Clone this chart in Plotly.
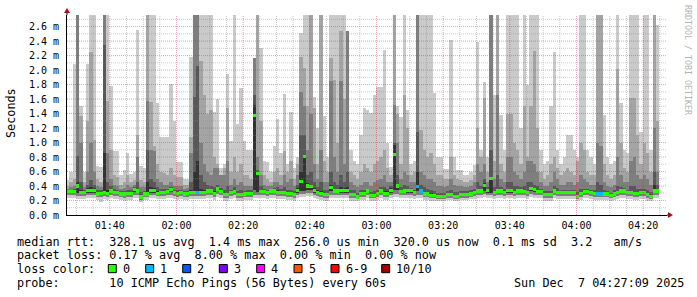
import pandas as pd
import plotly.graph_objects as go

# ---------------- data (values in 1/100 ms) ----------------
T_START = "2025-12-07 01:27:09"
T_END = "2025-12-07 04:27:09"
FIRST_BIN = "2025-12-07 01:27:21"

# smoke band tops (sorted pings: p10 highest ... p6)
top_p10 = [48,60,209,300,150,60,209,300,300,68,
           66,300,300,178,88,88,55,62,85,57,
           59,255,67,65,300,300,300,155,107,107,
           107,181,130,73,73,50,50,218,300,300,
           300,300,300,300,142,160,65,70,195,102,
           300,125,175,102,90,90,216,300,230,75,
           73,60,95,133,85,167,70,142,65,80,
           251,300,300,300,163,120,300,136,80,300,
           300,300,300,300,254,90,75,70,110,147,
           145,141,166,177,177,228,99,66,300,150,
           135,300,145,70,75,300,300,300,300,300,
           168,80,80,64,64,241,80,62,62,55,
           55,60,69,239,90,184,80,300,166,300,
           138,90,300,300,300,300,120,300,180,300,
           300,300,90,70,75,150,225,90,70,80,
           110,110,90,80,300,300,90,80,70,300,
           300,138,80,70,75,300,154,90,85,300,
           300,300,115,300,300,90,300,262]
top_p9 = [40,45,50,300,136,45,130,225,103,50,
          45,300,158,90,55,53,42,45,55,45,
          48,110,48,45,300,156,95,70,60,58,
          55,65,55,53,53,42,42,107,300,300,
          212,165,140,145,80,70,50,65,148,60,
          80,60,70,55,55,50,216,300,130,55,
          50,45,60,65,55,88,60,75,50,70,
          218,203,150,300,147,70,300,75,60,216,
          186,100,254,160,254,60,55,50,60,70,
          65,60,70,75,80,90,65,55,300,140,
          70,165,120,55,60,300,117,90,80,85,
          70,55,55,50,50,80,55,50,48,45,
          45,48,55,120,80,161,60,300,75,300,
          70,60,140,140,100,90,70,150,80,150,
          227,120,60,50,55,70,80,65,55,60,
          65,60,55,75,100,90,60,55,55,300,
          300,70,55,50,55,202,100,65,60,161,
          161,110,70,100,85,60,300,130]
top_p8 = [36,38,40,300,100,38,60,99,60,40,
          38,300,85,50,42,40,36,37,42,38,
          42,80,38,38,158,90,88,50,45,42,
          42,45,40,40,40,36,37,85,300,300,
          100,70,60,55,65,65,55,55,75,42,
          50,42,45,40,40,40,216,80,55,42,
          40,40,45,45,42,55,45,50,40,55,
          170,150,90,140,70,50,90,45,45,185,
          80,60,185,70,254,45,42,38,42,45,
          45,40,45,48,50,55,45,45,152,100,
          50,60,55,45,45,300,60,55,50,50,
          45,40,40,38,40,50,42,40,40,38,
          38,40,45,70,60,70,45,300,50,165,
          50,45,80,80,60,55,50,60,75,75,
          70,60,45,40,40,45,60,50,42,42,
          45,45,42,45,55,50,45,42,42,100,
          95,45,40,38,42,80,55,45,45,75,
          80,55,50,55,50,42,120,60]
top_p7 = [34,35,36,82,45,35,42,48,42,35,
          34,234,45,40,36,35,33,33,35,34,
          38,45,32,33,90,50,45,38,36,36,
          36,38,35,34,35,33,33,45,163,205,
          55,45,42,40,38,42,37,34,40,35,
          38,33,34,33,34,34,166,62,40,36,
          35,36,37,38,36,38,35,35,33,42,
          110,110,55,60,45,38,45,35,35,60,
          45,42,55,45,60,35,34,31,34,35,
          36,32,33,35,38,38,36,40,100,55,
          38,42,40,37,35,115,42,38,36,34,
          33,31,31,31,33,35,32,32,33,33,
          33,34,36,45,40,50,38,90,38,55,
          38,36,45,45,40,40,38,40,45,45,
          42,40,36,33,33,33,40,37,35,35,
          35,35,35,32,36,36,36,35,34,45,
          42,34,33,31,34,40,38,37,35,40,
          40,36,36,36,34,32,60,42]
top_p6 = [33,33,34,45,35,33,37,38,37,32,
          32,85,35,35,33,33,31,31,32,32,
          36,36,28,30,45,38,37,33,33,33,
          34,36,33,32,33,31,31,34,60,75,
          36,34,35,35,33,38,34,30,31,33,
          34,30,30,31,32,32,152,60,34,34,
          33,35,35,34,33,33,32,32,30,37,
          60,83,44,42,37,34,33,31,31,42,
          36,36,38,37,38,31,30,28,31,32,
          34,29,29,32,35,33,33,37,97,43,
          34,35,35,35,33,60,36,32,31,30,
          29,28,28,28,30,30,28,28,30,30,
          30,31,33,36,35,44,36,52,33,36,
          35,33,36,36,33,35,35,35,33,39,
          37,34,34,30,30,30,35,33,33,33,
          33,33,33,28,32,34,34,33,32,32,
          32,31,31,28,31,33,35,35,33,33,
          32,32,33,33,30,28,41,35]
median = [32,32,32,40,31,31,34,34,34,29,
          30,31,30,33,31,31,29,29,30,30,
          35,33,25,29,29,34,34,30,31,31,
          32,35,31,30,31,29,30,31,31,31,
          31,31,33,33,30,36,32,28,28,31,
          32,28,28,29,30,30,137,57,32,32,
          31,33,33,31,31,31,30,30,28,34,
          46,81,40,39,34,31,30,28,28,38,
          33,33,34,34,34,28,28,25,30,30,
          33,27,27,30,33,30,30,34,83,40,
          32,33,34,34,31,39,33,29,29,27,
          27,26,26,26,28,28,26,26,28,28,
          28,29,31,33,33,41,34,50,31,33,
          33,31,34,34,31,33,33,32,31,37,
          35,32,32,28,28,28,33,31,31,31,
          31,31,31,26,30,32,32,31,30,29,
          29,29,29,27,29,31,33,33,31,31,
          30,30,31,31,28,26,33,33]
# smoke band bottoms (p5, p3, p1)
bot_p5 = [30,30,30,30,29,29,31,31,31,27,
          28,29,28,30,29,29,27,27,28,28,
          32,30,23,27,27,31,31,28,29,29,
          30,32,29,28,29,27,28,29,29,29,
          29,29,30,30,28,33,30,26,26,29,
          30,26,26,27,28,28,34,32,30,30,
          29,30,30,29,29,29,28,28,26,31,
          33,33,34,35,31,29,28,26,26,33,
          30,30,31,31,31,26,26,23,28,28,
          30,25,25,28,30,28,28,31,35,34,
          30,30,31,31,29,33,30,27,27,25,
          25,24,24,24,26,26,24,24,26,26,
          26,27,29,30,30,33,31,31,29,30,
          30,29,31,31,29,30,30,30,29,33,
          32,30,30,26,26,26,30,29,29,29,
          29,29,29,24,28,30,30,29,28,27,
          27,27,27,25,27,29,30,30,29,29,
          28,28,29,29,26,24,30,30]
bot_p3 = [27,27,27,26,26,26,28,28,27,25,
          25,26,25,27,26,26,25,24,25,25,
          28,27,21,25,25,28,28,26,26,26,
          27,28,26,25,26,25,25,26,26,26,
          26,26,27,27,25,29,27,24,24,26,
          27,24,24,25,25,25,28,28,27,27,
          26,27,27,26,26,26,25,25,24,28,
          29,29,30,30,28,26,25,24,24,28,
          27,27,28,28,28,24,24,22,25,25,
          27,23,23,25,27,25,25,28,29,29,
          27,27,28,28,26,28,27,25,25,23,
          23,22,22,22,24,24,22,22,24,24,
          24,25,26,27,27,29,28,28,26,27,
          27,26,28,28,26,27,27,27,26,29,
          28,27,27,24,24,24,27,26,26,26,
          26,26,26,22,25,27,27,26,25,25,
          25,25,25,23,25,26,27,27,26,26,
          25,25,26,26,24,22,27,27]
bot_p1 = [23,23,23,22,22,22,24,24,23,21,
          18,22,21,23,22,22,21,20,21,21,
          24,23,18,21,21,24,24,22,22,22,
          23,24,22,21,22,21,21,22,22,22,
          22,22,23,23,21,25,23,20,20,22,
          23,20,20,21,21,21,24,24,23,23,
          22,23,23,22,22,22,21,21,20,24,
          25,25,26,26,24,22,21,20,20,24,
          23,23,24,24,24,20,20,19,21,21,
          23,20,20,21,23,21,21,24,25,25,
          23,23,24,24,22,24,23,21,21,20,
          20,19,19,19,21,21,19,19,21,21,
          21,22,22,23,23,25,24,24,22,23,
          23,22,24,24,22,23,23,23,22,25,
          24,23,23,20,20,20,23,22,22,22,
          22,22,22,19,21,23,23,22,21,21,
          21,21,21,20,21,22,23,23,22,22,
          21,21,22,22,20,19,23,23]
# packets lost per step (0..10)
loss = [0]*178
for _k in (39, 105, 106, 159, 160):
    loss[_k] = 1

loss_labels = ["0", "1", "2", "3", "4", "5", "6-9", "10/10"]
loss_colors = ["#26ff00", "#00b8ff", "#0059ff", "#7e00ff", "#ff00ff", "#ff5500", "#ff0000", "#a10000"]

y_ticks = [0.0, 0.2, 0.4, 0.6, 0.8, 1.0, 1.2, 1.4, 1.6, 1.8, 2.0, 2.2, 2.4, 2.6]

legend_rows = [
    "median rtt:  328.1 us avg  1.4 ms max  256.0 us min  320.0 us now  0.1 ms sd  3.2   am/s",
    "packet loss: 0.17 % avg  8.00 % max  0.00 % min  0.00 % now",
    "loss color:",
    "probe:       10 ICMP Echo Pings (56 Bytes) every 60s",
]
stamp = "Sun Dec  7 04:27:09 2025"

# ---------------- figure ----------------
times = pd.date_range(FIRST_BIN, periods=len(median), freq="min")
def ms(a):
    return [v / 100.0 for v in a]

W, H = 697, 297
L_, R_, T_, B_ = 67, 30, 15, 82
PW, PH = W - L_ - R_, H - T_ - B_

def px(x):
    return (x - L_) / PW

def py(y):
    return (T_ + PH - y) / PH

fig = go.Figure()

bands = [(bot_p1, top_p10, "#cacaca"),
         (bot_p3, top_p9, "#a4a4a4"),
         (bot_p3, top_p8, "#7e7e7e"),
         (bot_p5, top_p7, "#585858"),
         (bot_p5, top_p6, "#323232")]
for lo, hi, col in bands:
    b = ms(lo)
    t = ms(hi)
    fig.add_trace(go.Bar(x=times, base=b, y=[tt - bb for tt, bb in zip(t, b)],
                         width=60500, marker=dict(color=col, line=dict(width=0)),
                         hoverinfo="skip", showlegend=False))

def loss_color(n):
    if n >= 10:
        return loss_colors[7]
    if n >= 6:
        return loss_colors[6]
    return loss_colors[n]

thick = 0.045
med_ms = ms(median)
fig.add_trace(go.Bar(x=times, base=[m - thick / 2 for m in med_ms], y=[thick] * len(med_ms),
                     width=60500, marker=dict(color=[loss_color(n) for n in loss], line=dict(width=0)),
                     hoverinfo="skip", showlegend=False))

shapes = []
# grid (drawn above the smoke, like rrdtool)
minor_c = "rgba(140,140,140,0.45)"
major_c = "rgba(205,40,40,0.42)"
grid_times = pd.date_range("2025-12-07 01:30", "2025-12-07 04:25", freq="5min")
for major in (False, True):
    for t in grid_times:
        is_major = (t.minute % 20 == 0)
        if is_major != major:
            continue
        shapes.append(dict(type="line", xref="x", yref="paper", x0=t, x1=t, y0=0, y1=1,
                           line=dict(color=major_c if major else minor_c, width=1, dash="1px,1px"),
                           layer="above"))
    for i in range(1, 28):
        v = i / 10
        is_major = (i % 2 == 0)
        if is_major != major:
            continue
        shapes.append(dict(type="line", xref="paper", yref="y", x0=0, x1=1, y0=v, y1=v,
                           line=dict(color=major_c if major else minor_c, width=1, dash="1px,1px"),
                           layer="above"))

arrow_c = "#a31515"
# axis extensions and arrows
shapes.append(dict(type="line", xref="paper", yref="paper", xsizemode="pixel", xanchor=1,
                   x0=0, x1=2, y0=0, y1=0, line=dict(color="black", width=1), layer="above"))
shapes.append(dict(type="line", xref="paper", yref="paper", ysizemode="pixel", yanchor=1,
                   x0=0, x1=0, y0=0, y1=2, line=dict(color="black", width=1), layer="above"))
shapes.append(dict(type="path", xref="paper", yref="paper", xsizemode="pixel", ysizemode="pixel",
                   xanchor=0, yanchor=1, path="M -3 2 L 3 2 L 0 7 Z",
                   fillcolor=arrow_c, line=dict(width=0), layer="above"))
shapes.append(dict(type="path", xref="paper", yref="paper", xsizemode="pixel", ysizemode="pixel",
                   xanchor=1, yanchor=0, path="M 1 -3 L 1 3 L 6 0 Z",
                   fillcolor=arrow_c, line=dict(width=0), layer="above"))

# legend color boxes
box_x = [108.3, 145.7, 182.7, 219.3, 256.7, 294.0, 331.0, 381.7]
for bx, col in zip(box_x, loss_colors):
    shapes.append(dict(type="rect", xref="paper", yref="paper",
                       x0=px(bx), x1=px(bx + 8), y0=py(272.7), y1=py(264.5),
                       fillcolor=col, line=dict(color="black", width=1)))

MONO = "DejaVu Sans Mono"
LEG_SIZE = 11.8
def nb(s):
    return s.replace(" ", "\u00a0")

ann = []
rows_y = [241.7, 255.0, 269.3, 282.7]
for txt, yy in zip(legend_rows, rows_y):
    ann.append(dict(text=nb(txt), x=px(16), y=py(yy), xref="paper", yref="paper",
                    xanchor="left", yanchor="middle", showarrow=False, borderpad=0,
                    font=dict(family=MONO, size=LEG_SIZE, color="black")))
for bx, lab in zip(box_x, loss_labels):
    ann.append(dict(text=nb(lab), x=px(bx + 13.5), y=py(269.3), xref="paper", yref="paper",
                    xanchor="left", yanchor="middle", showarrow=False, borderpad=0,
                    font=dict(family=MONO, size=LEG_SIZE, color="black")))
ann.append(dict(text=nb(stamp), x=px(513.3), y=py(282.7), xref="paper", yref="paper",
                xanchor="left", yanchor="middle", showarrow=False, borderpad=0,
                font=dict(family=MONO, size=LEG_SIZE, color="black")))
ann.append(dict(text="Seconds", x=px(11), y=py(113), xref="paper", yref="paper",
                xanchor="center", yanchor="middle", textangle=-90, showarrow=False, borderpad=0,
                font=dict(family=MONO, size=LEG_SIZE, color="black")))
ann.append(dict(text=nb("RRDTOOL / TOBI OETIKER"), x=px(688), y=py(60), xref="paper", yref="paper",
                xanchor="center", yanchor="middle", textangle=90, showarrow=False, borderpad=0,
                font=dict(family=MONO, size=8.3, color="#b4b4b4")))

fig.update_layout(
    width=W, height=H, margin=dict(l=L_, r=R_, t=T_, b=B_),
    paper_bgcolor="white", plot_bgcolor="white",
    barmode="overlay", bargap=0, showlegend=False,
    shapes=shapes, annotations=ann,
    xaxis=dict(type="date", range=[T_START, T_END], tickformat="%H:%M",
               tick0="2025-12-07 01:40:00", dtick=20 * 60 * 1000,
               showgrid=False, zeroline=False, showline=True, linecolor="black", linewidth=1,
               ticks="outside", ticklen=1, tickcolor="rgba(0,0,0,0)",
               tickfont=dict(family=MONO, size=10, color="black"), layer="above traces",
               fixedrange=True),
    yaxis=dict(range=[0, 2.76], tickvals=y_ticks, ticktext=["%.1f m" % v for v in y_ticks],
               showgrid=False, zeroline=False, showline=True, linecolor="black", linewidth=1,
               ticks="outside", ticklen=5, tickcolor="rgba(0,0,0,0)",
               tickfont=dict(family=MONO, size=10, color="black"), layer="above traces",
               fixedrange=True),
)

fig.write_html("out.html")
